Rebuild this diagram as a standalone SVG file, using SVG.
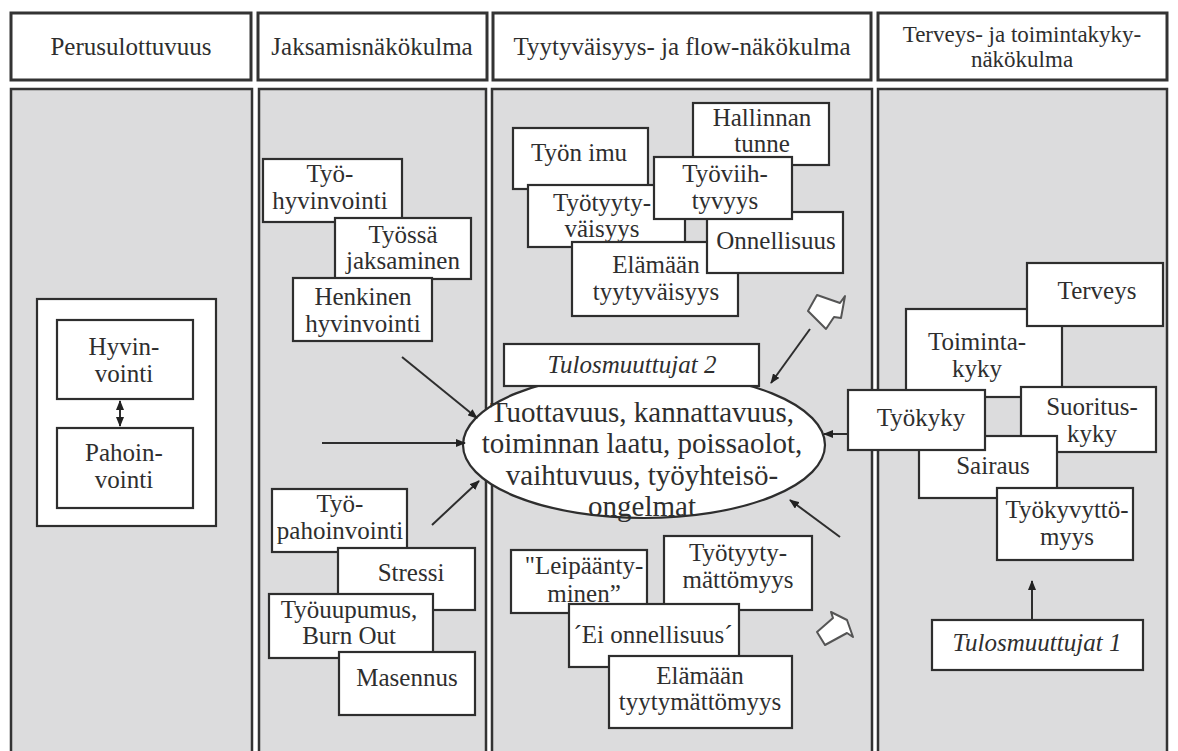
<svg xmlns="http://www.w3.org/2000/svg" width="1178" height="751" viewBox="0 0 1178 751">
<defs>
<style>
.hdr{fill:#fff;stroke:#333;stroke-width:3}
.col{fill:#dcdcdd;stroke:#333;stroke-width:2.5}
.box{fill:#fff;stroke:#2e2e2e;stroke-width:2.2}
.t{font-family:"Liberation Serif","Times New Roman",serif;font-size:25px;fill:#2e2e2e;text-anchor:middle}
.h{font-size:25px}
.h2{font-size:23px}
.it{font-style:italic}
.el{font-size:29px}
.ln{stroke:#2e2e2e;stroke-width:2;fill:none}
.ic{fill:#fff;stroke:#555;stroke-width:2;stroke-linejoin:round}
</style>
<marker id="ah" markerWidth="10" markerHeight="8" refX="9" refY="4" orient="auto" markerUnits="userSpaceOnUse">
<path d="M0,0 L10,4 L0,8 z" fill="#222"/>
</marker>
<marker id="as" markerWidth="10" markerHeight="8" refX="1" refY="4" orient="auto" markerUnits="userSpaceOnUse">
<path d="M10,0 L0,4 L10,8 z" fill="#222"/>
</marker>
</defs>
<rect width="1178" height="751" fill="#fff"/>

<g id="headers">
<rect class="hdr" x="11" y="13" width="240" height="67"/>
<text class="t h" x="131" y="55">Perusulottuvuus</text>
<rect class="hdr" x="258" y="13" width="229" height="67"/>
<text class="t h" x="372" y="55">Jaksamisnäkökulma</text>
<rect class="hdr" x="493" y="13" width="378" height="67"/>
<text class="t h" x="682" y="55">Tyytyväisyys- ja flow-näkökulma</text>
<rect class="hdr" x="878" y="13" width="289" height="67"/>
<text class="t h2" x="1022" y="42">Terveys- ja toimintakyky-</text>
<text class="t h2" x="1022" y="67">näkökulma</text>
</g>

<g id="columns">
<rect class="col" x="11" y="89" width="241" height="680"/>
<rect class="col" x="259" y="89" width="227" height="680"/>
<rect class="col" x="492" y="89" width="380" height="680"/>
<rect class="col" x="878" y="89" width="289" height="680"/>
</g>

<g id="perus">
<rect class="box" x="37" y="299" width="179" height="227"/>
<g id="hyvinvointi">
<rect class="box" x="57" y="320" width="136" height="79"/>
<text class="t" x="124" y="355">Hyvin-</text>
<text class="t" x="124" y="382">vointi</text>
</g>
<g id="pahoinvointi">
<rect class="box" x="57" y="428" width="136" height="80"/>
<text class="t" x="124" y="461">Pahoin-</text>
<text class="t" x="124" y="488">vointi</text>
</g>
</g>

<g id="jaksaminen">
<g id="tyohyvinvointi">
<rect class="box" x="263" y="159" width="139" height="63"/>
<text class="t" x="330" y="182">Työ-</text>
<text class="t" x="330" y="209">hyvinvointi</text>
</g>
<g id="tyossajaksaminen">
<rect class="box" x="335" y="218" width="136" height="61"/>
<text class="t" x="403" y="243">Työssä</text>
<text class="t" x="403" y="269">jaksaminen</text>
</g>
<g id="henkinen">
<rect class="box" x="293" y="278" width="139" height="63"/>
<text class="t" x="363" y="305">Henkinen</text>
<text class="t" x="363" y="332">hyvinvointi</text>
</g>
<g id="tyopahoinvointi">
<rect class="box" x="272" y="489" width="135" height="63"/>
<text class="t" x="340" y="512">Työ-</text>
<text class="t" x="340" y="539">pahoinvointi</text>
</g>
<g id="stressi">
<rect class="box" x="338" y="548" width="137" height="62"/>
<text class="t" x="411" y="581">Stressi</text>
</g>
<g id="tyouupumus">
<rect class="box" x="269" y="594" width="164" height="64"/>
<text class="t" x="349" y="618">Työuupumus,</text>
<text class="t" x="349" y="644">Burn Out</text>
</g>
<g id="masennus">
<rect class="box" x="339" y="652" width="136" height="63"/>
<text class="t" x="407" y="686">Masennus</text>
</g>
</g>

<g id="tyytyvaisyys">
<g id="tyonimu">
<rect class="box" x="513" y="128" width="135" height="61"/>
<text class="t" x="579" y="161">Työn imu</text>
</g>
<g id="hallinnan">
<rect class="box" x="693" y="103" width="136" height="62"/>
<text class="t" x="762" y="126">Hallinnan</text>
<text class="t" x="762" y="152">tunne</text>
</g>
<g id="tyotyytyvaisyys">
<rect class="box" x="528" y="185" width="157" height="62"/>
<text class="t" x="602" y="211">Työtyyty-</text>
<text class="t" x="602" y="237">väisyys</text>
</g>
<g id="elamaantyytyvaisyys">
<rect class="box" x="572" y="242" width="166" height="74"/>
<text class="t" x="656" y="273">Elämään</text>
<text class="t" x="656" y="300">tyytyväisyys</text>
</g>
<g id="onnellisuus">
<rect class="box" x="707" y="212" width="136" height="61"/>
<text class="t" x="776" y="249">Onnellisuus</text>
</g>
<g id="tyoviihtyvyys">
<rect class="box" x="654" y="157" width="138" height="62"/>
<text class="t" x="725" y="182">Työviih-</text>
<text class="t" x="725" y="209">tyvyys</text>
</g>
<g id="tulos">
<ellipse class="box" cx="644" cy="445" rx="181" ry="73"/>
<text class="t el" x="642" y="422">Tuottavuus, kannattavuus,</text>
<text class="t el" x="642" y="453">toiminnan laatu, poissaolot,</text>
<text class="t el" x="642" y="485">vaihtuvuus, työyhteisö-</text>
<text class="t el" x="642" y="516">ongelmat</text>
</g>
<g id="tulosmuuttujat2">
<rect class="box" x="504" y="344" width="255" height="42"/>
<text class="t it" x="632" y="373">Tulosmuuttujat 2</text>
</g>
<g id="leipaantyminen">
<rect class="box" x="511" y="550" width="136" height="63"/>
<text class="t" x="584" y="574">"Leipäänty-</text>
<text class="t" x="584" y="602">minen”</text>
</g>
<g id="tyotyytymattomyys">
<rect class="box" x="664" y="536" width="148" height="74"/>
<text class="t" x="738" y="561">Työtyyty-</text>
<text class="t" x="738" y="588">mättömyys</text>
</g>
<g id="eionnellisuus">
<rect class="box" x="569" y="604" width="170" height="63"/>
<text class="t" x="653" y="643">´Ei onnellisuus´</text>
</g>
<g id="elamaantyytymattomyys">
<rect class="box" x="609" y="656" width="183" height="72"/>
<text class="t" x="700" y="684">Elämään</text>
<text class="t" x="700" y="710">tyytymättömyys</text>
</g>
<g id="icons">
<polygon class="ic" points="808,311 817,295 840,303 845,296 841,318 834,317 826,329"/>
<polygon class="ic" points="817,632 833,618 831,612 847,620 853,637 847,633 825,645"/>
</g>
</g>

<g id="terveys">
<g id="toimintakyky">
<rect class="box" x="906" y="309" width="156" height="88"/>
<text class="t" x="977" y="350">Toiminta-</text>
<text class="t" x="977" y="377">kyky</text>
</g>
<g id="terveysbox">
<rect class="box" x="1027" y="263" width="136" height="63"/>
<text class="t" x="1097" y="299">Terveys</text>
</g>
<g id="suorituskyky">
<rect class="box" x="1021" y="387" width="135" height="65"/>
<text class="t" x="1092" y="415">Suoritus-</text>
<text class="t" x="1092" y="442">kyky</text>
</g>
<g id="sairaus">
<rect class="box" x="919" y="436" width="138" height="62"/>
<text class="t" x="993" y="474">Sairaus</text>
</g>
<g id="tyokyky">
<rect class="box" x="848" y="390" width="137" height="60"/>
<text class="t" x="921" y="426">Työkyky</text>
</g>
<g id="tyokyvyttomyys">
<rect class="box" x="997" y="488" width="136" height="72"/>
<text class="t" x="1067" y="518">Työkyvyttö-</text>
<text class="t" x="1067" y="545">myys</text>
</g>
<g id="tulosmuuttujat1">
<rect class="box" x="932" y="620" width="211" height="50"/>
<text class="t it" x="1037" y="651">Tulosmuuttujat 1</text>
</g>
</g>

<g id="connectors">
<line class="ln" x1="120" y1="401" x2="120" y2="426" marker-start="url(#as)" marker-end="url(#ah)"/>
<line class="ln" x1="402" y1="357" x2="477" y2="418" marker-end="url(#ah)"/>
<line class="ln" x1="322" y1="443" x2="465" y2="443" marker-end="url(#ah)"/>
<line class="ln" x1="432" y1="525" x2="479" y2="481" marker-end="url(#ah)"/>
<line class="ln" x1="810" y1="329" x2="771" y2="383" marker-end="url(#ah)"/>
<line class="ln" x1="848" y1="434" x2="824" y2="434" marker-end="url(#ah)"/>
<line class="ln" x1="840" y1="537" x2="790" y2="500" marker-end="url(#ah)"/>
<line class="ln" x1="1032" y1="620" x2="1032" y2="581" marker-end="url(#ah)"/>
</g>
</svg>
